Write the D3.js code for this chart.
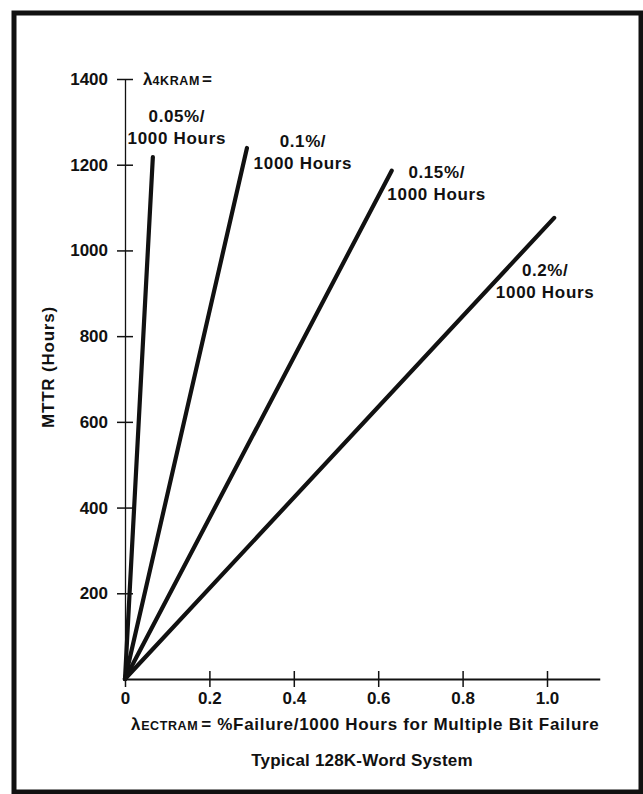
<!DOCTYPE html>
<html>
<head>
<meta charset="utf-8">
<script src="https://cdn.jsdelivr.net/npm/d3@7"></script>
<style>
  html, body { margin: 0; padding: 0; background: #fff; }
  svg { display: block; }
  text { font-family: "Liberation Sans", Arial, Helvetica, sans-serif; font-weight: bold; fill: #111; }
</style>
</head>
<body>
<div id="chart"></div>
<script>
// ---- data ----
const seriesLabels = ["0.05%/", "0.1%/", "0.15%/", "0.2%/"];
const seriesUnit = "1000 Hours";
const seriesLambda4K = [0.05, 0.1, 0.15, 0.2];
// each line runs from origin to its end point (λ_ECTRAM, MTTR)
const lineEndX = [0.066, 0.289, 0.632, 1.017];
const lineEndY = [1218, 1239, 1186, 1076];
const xTicks = [0, 0.2, 0.4, 0.6, 0.8, 1.0];
const xTickLabels = ["0", "0.2", "0.4", "0.6", "0.8", "1.0"];
const yTicks = [200, 400, 600, 800, 1000, 1200, 1400];
const yTickLabels = ["200", "400", "600", "800", "1000", "1200", "1400"];
const yTitle = "MTTR (Hours)";
const subtitle = "Typical 128K-Word System";

// ---- layout ----
const W = 643, H = 794;
const x0 = 125, y0 = 679;
const pxPerUnitX = 422;
const xMax = 1.125;
const x = d3.scaleLinear().domain([0, xMax]).range([x0, x0 + pxPerUnitX * xMax]);
const y = d3.scaleLinear().domain([0, 1400]).range([y0, 79]);
// label offsets (px) relative to each line's end point: [dx of text centre, dy of 2nd line baseline]
const labelOffsets = [[24, -13], [56, 21], [45, 29], [-9, 80]];

const svg = d3.select("#chart").append("svg").attr("width", W).attr("height", H);
svg.append("rect").attr("width", W).attr("height", H).attr("fill", "#fff");

// frame
svg.append("rect").attr("x", 14).attr("y", 13).attr("width", 627).attr("height", 779)
  .attr("fill", "none").attr("stroke", "#111").attr("stroke-width", 5);

// y axis
const gy = svg.append("g").attr("transform", `translate(${x0},0)`)
  .call(d3.axisLeft(y).tickValues(yTicks).tickFormat((d, i) => yTickLabels[i])
    .tickSizeInner(8).tickSizeOuter(0).tickPadding(9));
gy.select(".domain").attr("stroke", "#111").attr("stroke-width", 1.3);
gy.selectAll(".tick line").attr("x1", 8).attr("x2", -8).attr("stroke", "#111").attr("stroke-width", 1.5);
gy.selectAll(".tick text").attr("font-size", 17).attr("fill", "#111")
  .attr("font-family", "'Liberation Sans', Arial, sans-serif").attr("font-weight", "bold");

// x axis
const gx = svg.append("g").attr("transform", `translate(0,${y0})`)
  .call(d3.axisBottom(x).tickValues(xTicks).tickFormat((d, i) => xTickLabels[i])
    .tickSizeInner(8).tickSizeOuter(0).tickPadding(5));
gx.select(".domain").attr("stroke", "#111").attr("stroke-width", 2.2);
gx.selectAll(".tick line").attr("y1", -8).attr("y2", 8).attr("stroke", "#111").attr("stroke-width", 1.5);
gx.selectAll(".tick text").attr("font-size", 17).attr("fill", "#111")
  .attr("font-family", "'Liberation Sans', Arial, sans-serif").attr("font-weight", "bold");

// lines
const line = d3.line().x(d => x(d[0])).y(d => y(d[1]));
seriesLabels.forEach((lab, i) => {
  svg.append("path")
    .attr("d", line([[0, 0], [lineEndX[i], lineEndY[i]]]))
    .attr("fill", "none").attr("stroke", "#111").attr("stroke-width", 4.2)
    .attr("stroke-linecap", "round");
  const cx = x(lineEndX[i]) + labelOffsets[i][0];
  const by = y(lineEndY[i]) + labelOffsets[i][1];
  svg.append("text").attr("x", cx).attr("y", by - 22).attr("text-anchor", "middle")
    .attr("font-size", 17).attr("letter-spacing", 0.6).text(lab);
  svg.append("text").attr("x", cx).attr("y", by).attr("text-anchor", "middle")
    .attr("font-size", 17).attr("letter-spacing", 0.7).text(seriesUnit);
});

// lambda 4KRAM header
const hdr = svg.append("text").attr("x", 143).attr("y", 85).attr("font-size", 17);
hdr.append("tspan").text("λ");
hdr.append("tspan").attr("font-size", 12.5).attr("letter-spacing", 0.6).text("4KRAM");
hdr.append("tspan").attr("dx", 2).text("=");

// y title
svg.append("text").attr("transform", `translate(54,367) rotate(-90)`)
  .attr("text-anchor", "middle").attr("font-size", 17).attr("letter-spacing", 0.8).text(yTitle);

// x title
const xt = svg.append("text").attr("x", 131).attr("y", 730).attr("font-size", 17).attr("letter-spacing", 0.7);
xt.append("tspan").text("λ");
xt.append("tspan").attr("font-size", 12.5).attr("letter-spacing", 0.6).text("ECTRAM");
xt.append("tspan").attr("dx", 3).text("= %Failure/1000 Hours for Multiple Bit Failure");

// subtitle
svg.append("text").attr("x", 362).attr("y", 766).attr("text-anchor", "middle")
  .attr("font-size", 17).attr("letter-spacing", 0.2).text(subtitle);
</script>
</body>
</html>
